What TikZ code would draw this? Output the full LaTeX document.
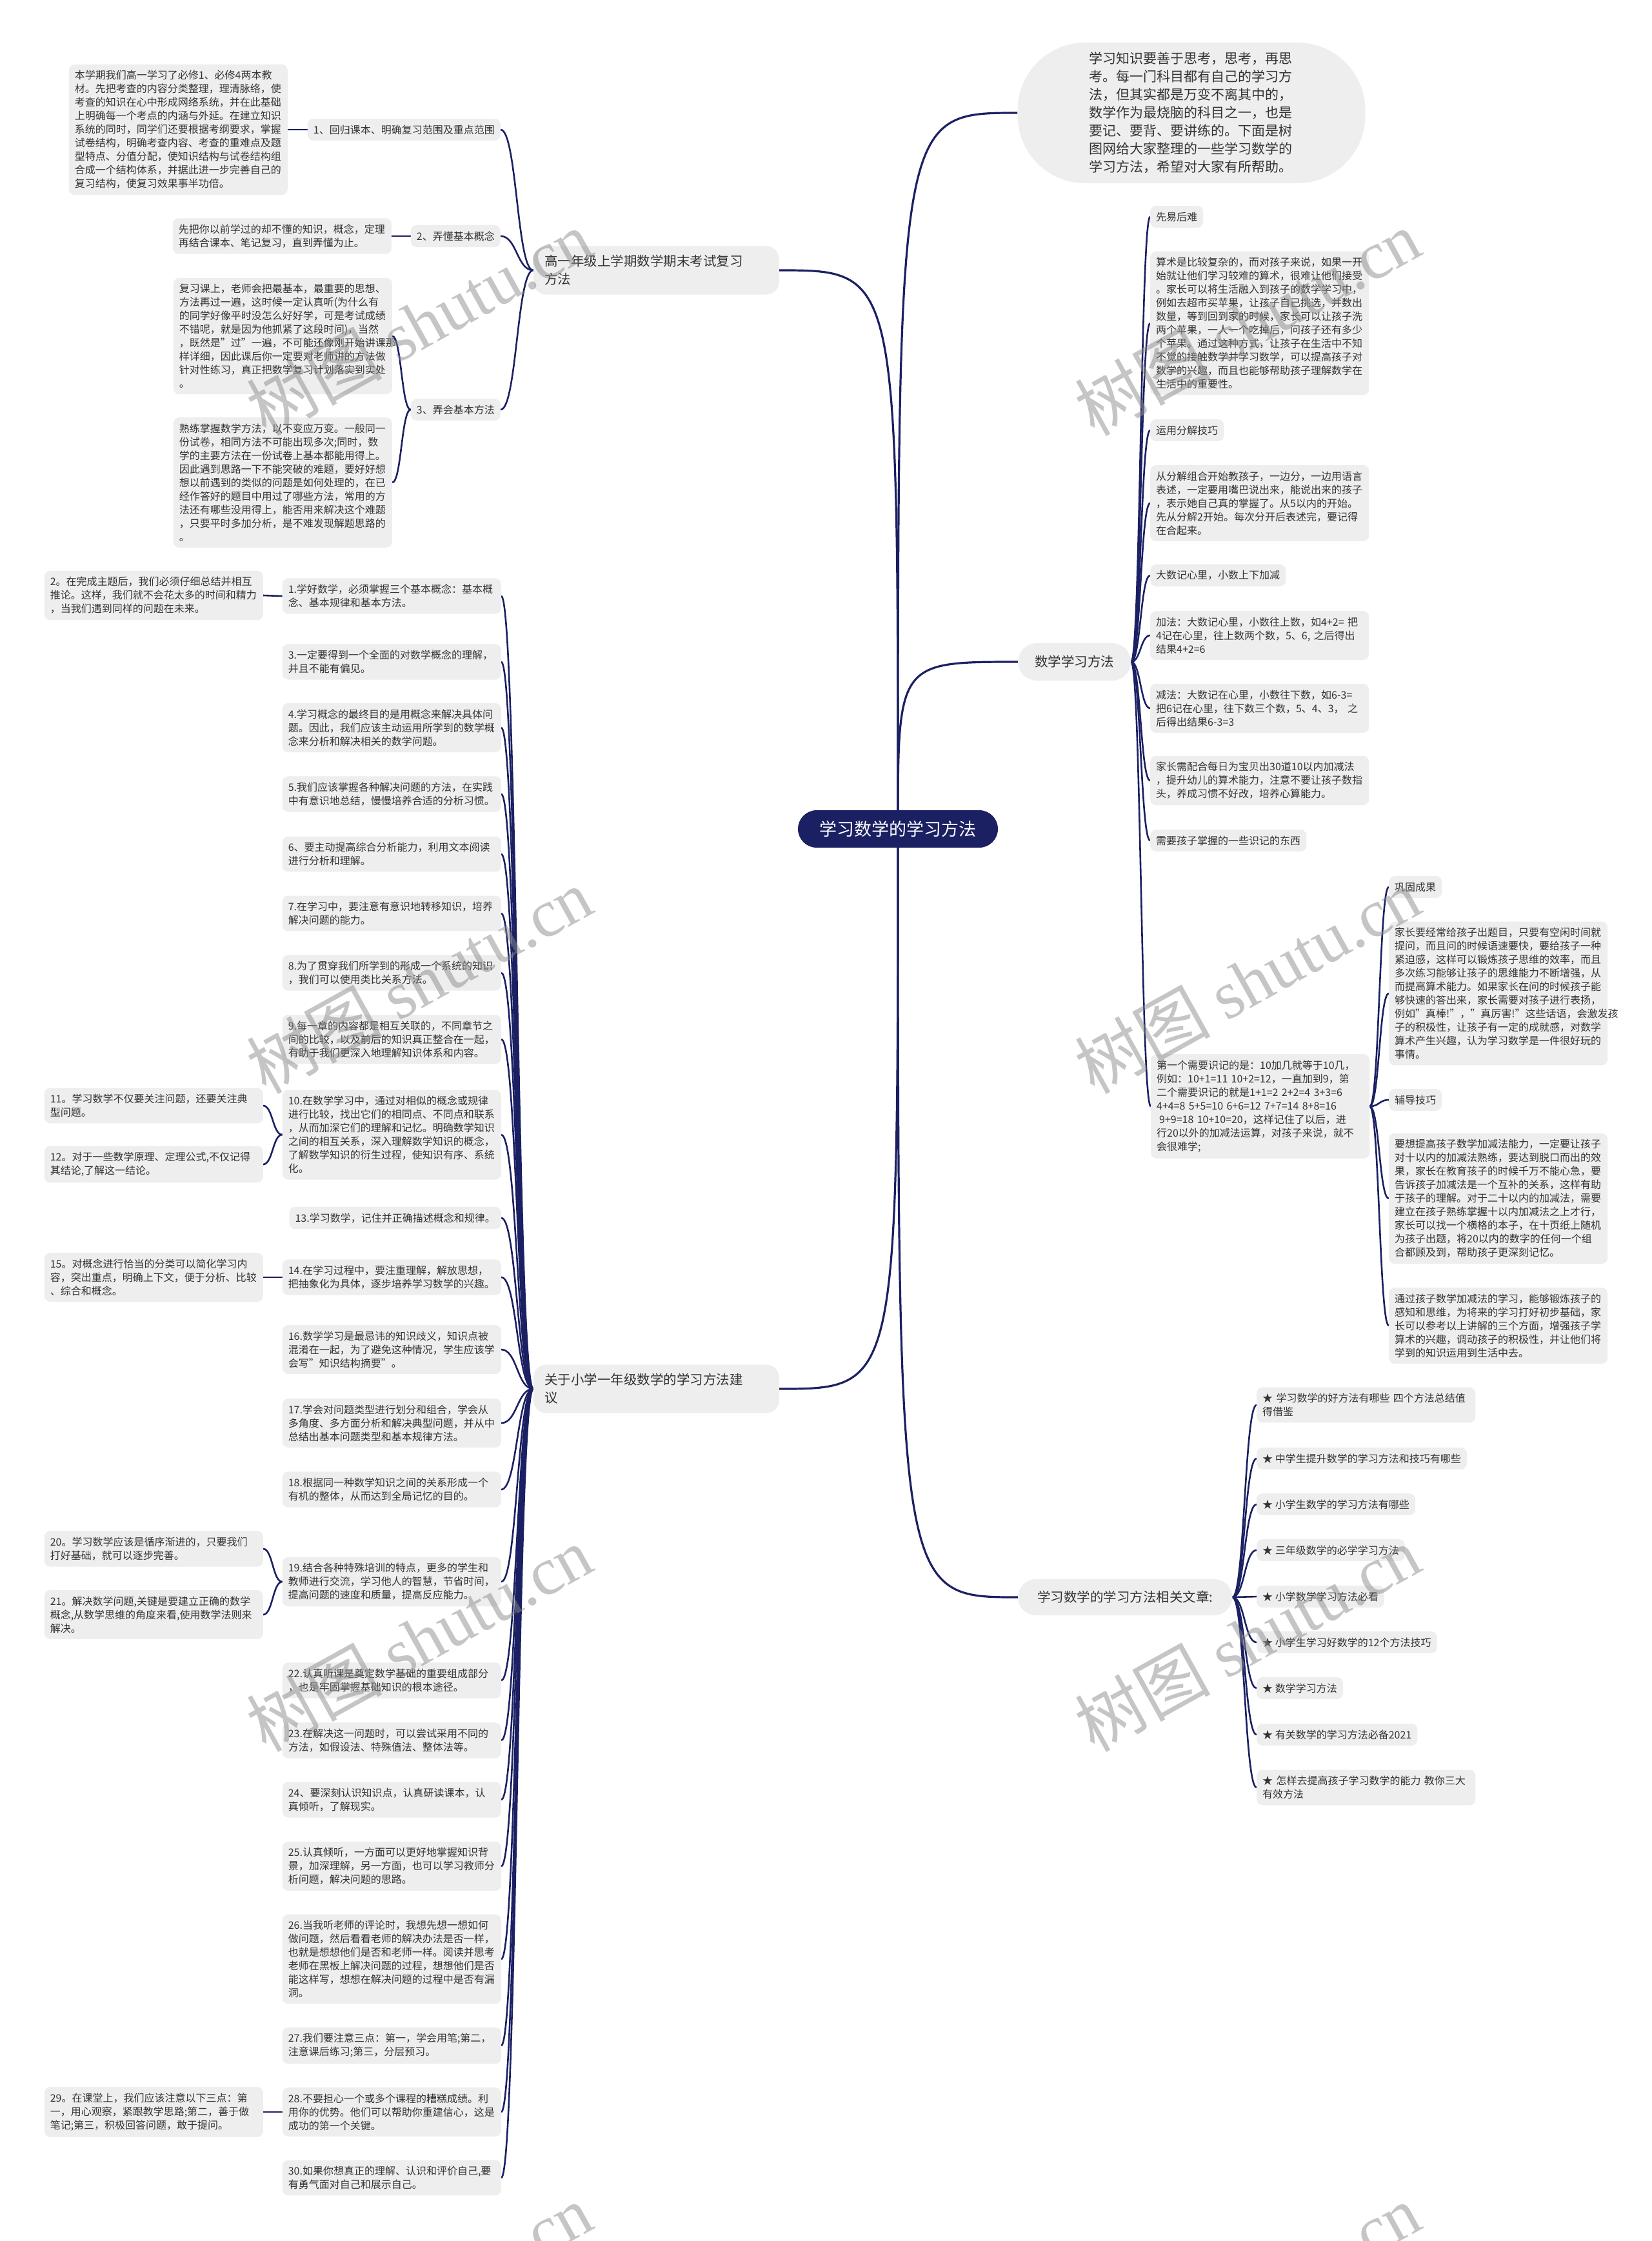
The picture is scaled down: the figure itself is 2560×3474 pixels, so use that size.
\documentclass[tikz,border=0pt]{standalone}
\usepackage{fontspec}
\setmainfont{Noto Sans CJK SC}
\newfontfamily\wmlat{Liberation Serif}
\usetikzlibrary{calc,backgrounds}
\definecolor{navy}{RGB}{27,32,99}
\definecolor{boxg}{RGB}{238,238,238}
\definecolor{txt}{RGB}{51,51,51}
\definecolor{wmc}{RGB}{140,140,140}
\newcommand\lcon[2]{\draw[conn] let \p1=(#1.west), \p2=(#2.east) in (\p1) .. controls ({(\x1+\x2)/2},\y1) and ({(\x1+\x2)/2},\y2) .. (\p2);}
\newcommand\rcon[2]{\draw[conn] let \p1=(#1.east), \p2=(#2.west) in (\p1) .. controls ({(\x1+\x2)/2},\y1) and ({(\x1+\x2)/2},\y2) .. (\p2);}
\newcommand\rootcon[1]{\draw[mconn] let \p1=(root.center), \p2=(#1) in (\p1) .. controls (\x1,\y2) .. (\p2);}
\begin{document}
\begin{tikzpicture}[x=1pt,y=-1pt,
 leaf/.style={fill=boxg, rounded corners=9pt, inner xsep=9pt, inner ysep=9.5pt, text=txt, align=left, font=\fontsize{16}{21}\selectfont},
 wide/.style={leaf, text width=321pt},
 lv/.style={fill=boxg, rounded corners=20pt, text=txt, align=left, font=\fontsize{20.5}{28}\selectfont},
 conn/.style={draw=navy, line width=2.6pt},
 mconn/.style={draw=navy, line width=3.2pt},
 wm/.style={text=wmc, text opacity=0.5, rotate=29, font=\fontsize{105}{105}\selectfont, inner sep=0pt}
]
\useasboundingbox (0,0) rectangle (2560,3474);

% root and level 1
\node[fill=navy, text=white, rounded corners=29pt, minimum width=310pt, minimum height=58pt, font=\fontsize{27}{30}\selectfont, inner sep=0pt] (root) at (1392,1285) {学习数学的学习方法};
\node[fill=boxg, text=txt, rounded corners=105pt, minimum width=539pt, minimum height=218pt, text width=318pt, align=left, font=\fontsize{21}{28}\selectfont, inner sep=0pt] (intro) at (1847,175) {学习知识要善于思考，思考，再思\\考。每一门科目都有自己的学习方\\法，但其实都是万变不离其中的，\\数学作为最烧脑的科目之一，也是\\要记、要背、要讲练的。下面是树\\图网给大家整理的一些学习数学的\\学习方法，希望对大家有所帮助。};
\node[lv, anchor=east, text width=346pt, inner xsep=17.5pt, inner ysep=14pt] (B1) at (1208,419) {高一年级上学期数学期末考试复习\\方法};
\node[lv, anchor=east, text width=346pt, inner xsep=17.5pt, inner ysep=14pt] (B2) at (1208,2153) {关于小学一年级数学的学习方法建\\议};
\node[lv, anchor=west, inner xsep=26pt, minimum height=58pt, rounded corners=29pt] (B3) at (1578,1026) {数学学习方法};
\node[lv, anchor=west, inner xsep=30pt, minimum height=56pt, rounded corners=28pt] (B4) at (1578,2476) {学习数学的学习方法相关文章:};

% branch 1
\node[leaf, anchor=east] (c11) at (776,201) {1、回归课本、明确复习范围及重点范围};
\node[wide, anchor=east] (d11) at (446,201) {本学期我们高一学习了必修1、必修4两本教\\材。先把考查的内容分类整理，理清脉络，使\\考查的知识在心中形成网络系统，并在此基础\\上明确每一个考点的内涵与外延。在建立知识\\系统的同时，同学们还要根据考纲要求，掌握\\试卷结构，明确考查内容、考查的重难点及题\\型特点、分值分配，使知识结构与试卷结构组\\合成一个结构体系，并据此进一步完善自己的\\复习结构，使复习效果事半功倍。};
\node[leaf, anchor=east] (c12) at (776,366) {2、弄懂基本概念};
\node[wide, anchor=east] (d12) at (607,366) {先把你以前学过的却不懂的知识，概念，定理\\再结合课本、笔记复习，直到弄懂为止。};
\node[leaf, anchor=east] (c13) at (776,635) {3、弄会基本方法};
\node[wide, anchor=east] (d13a) at (608,521) {复习课上，老师会把最基本，最重要的思想、\\方法再过一遍，这时候一定认真听(为什么有\\的同学好像平时没怎么好好学，可是考试成绩\\不错呢，就是因为他抓紧了这段时间)，当然\\，既然是"过"一遍，不可能还像刚开始讲课那\\样详细，因此课后你一定要对老师讲的方法做\\针对性练习，真正把数学复习计划落实到实处\\。};
\node[wide, anchor=east] (d13b) at (608,748) {熟练掌握数学方法，以不变应万变。一般同一\\份试卷，相同方法不可能出现多次;同时，数\\学的主要方法在一份试卷上基本都能用得上。\\因此遇到思路一下不能突破的难题，要好好想\\想以前遇到的类似的问题是如何处理的，在已\\经作答好的题目中用过了哪些方法，常用的方\\法还有哪些没用得上，能否用来解决这个难题\\，只要平时多加分析，是不难发现解题思路的\\。};

% branch 2
\node[wide, anchor=east] (e1) at (777,924) {1.学好数学，必须掌握三个基本概念：基本概\\念、基本规律和基本方法。};
\node[wide, anchor=east] (f1) at (408,923) {2。在完成主题后，我们必须仔细总结并相互\\推论。这样，我们就不会花太多的时间和精力\\，当我们遇到同样的问题在未来。};
\node[wide, anchor=east] (e3) at (777,1026) {3.一定要得到一个全面的对数学概念的理解，\\并且不能有偏见。};
\node[wide, anchor=east] (e4) at (777,1128) {4.学习概念的最终目的是用概念来解决具体问\\题。因此，我们应该主动运用所学到的数学概\\念来分析和解决相关的数学问题。};
\node[wide, anchor=east] (e5) at (777,1231) {5.我们应该掌握各种解决问题的方法，在实践\\中有意识地总结，慢慢培养合适的分析习惯。};
\node[wide, anchor=east] (e6) at (777,1324) {6、要主动提高综合分析能力，利用文本阅读\\进行分析和理解。};
\node[wide, anchor=east] (e7) at (777,1416) {7.在学习中，要注意有意识地转移知识，培养\\解决问题的能力。};
\node[wide, anchor=east] (e8) at (777,1508) {8.为了贯穿我们所学到的形成一个系统的知识\\，我们可以使用类比关系方法。};
\node[wide, anchor=east] (e9) at (777,1611) {9.每一章的内容都是相互关联的，不同章节之\\间的比较，以及前后的知识真正整合在一起，\\有助于我们更深入地理解知识体系和内容。};
\node[wide, anchor=east] (e10) at (777,1759) {10.在数学学习中，通过对相似的概念或规律\\进行比较，找出它们的相同点、不同点和联系\\，从而加深它们的理解和记忆。明确数学知识\\之间的相互关系，深入理解数学知识的概念，\\了解数学知识的衍生过程，使知识有序、系统\\化。};
\node[wide, anchor=east] (f11) at (408,1714) {11。学习数学不仅要关注问题，还要关注典\\型问题。};
\node[wide, anchor=east] (f12) at (408,1805) {12。对于一些数学原理、定理公式,不仅记得\\其结论,了解这一结论。};
\node[leaf, anchor=east] (e13) at (777,1888) {13.学习数学，记住并正确描述概念和规律。};
\node[wide, anchor=east] (e14) at (777,1980) {14.在学习过程中，要注重理解，解放思想，\\把抽象化为具体，逐步培养学习数学的兴趣。};
\node[wide, anchor=east] (f15) at (408,1980) {15。对概念进行恰当的分类可以简化学习内\\容，突出重点，明确上下文，便于分析、比较\\、综合和概念。};
\node[wide, anchor=east] (e16) at (777,2092) {16.数学学习是最忌讳的知识歧义，知识点被\\混淆在一起，为了避免这种情况，学生应该学\\会写"知识结构摘要"。};
\node[wide, anchor=east] (e17) at (777,2206) {17.学会对问题类型进行划分和组合，学会从\\多角度、多方面分析和解决典型问题，并从中\\总结出基本问题类型和基本规律方法。};
\node[wide, anchor=east] (e18) at (777,2309) {18.根据同一种数学知识之间的关系形成一个\\有机的整体，从而达到全局记忆的目的。};
\node[wide, anchor=east] (e19) at (777,2452) {19.结合各种特殊培训的特点，更多的学生和\\教师进行交流，学习他人的智慧，节省时间，\\提高问题的速度和质量，提高反应能力。};
\node[wide, anchor=east] (f20) at (408,2401) {20。学习数学应该是循序渐进的，只要我们\\打好基础，就可以逐步完善。};
\node[wide, anchor=east] (f21) at (408,2503) {21。解决数学问题,关键是要建立正确的数学\\概念,从数学思维的角度来看,使用数学法则来\\解决。};
\node[wide, anchor=east] (e22) at (777,2605) {22.认真听课是奠定数学基础的重要组成部分\\，也是牢固掌握基础知识的根本途径。};
\node[wide, anchor=east] (e23) at (777,2698) {23.在解决这一问题时，可以尝试采用不同的\\方法，如假设法、特殊值法、整体法等。};
\node[wide, anchor=east] (e24) at (777,2790) {24、要深刻认识知识点，认真研读课本，认\\真倾听，了解现实。};
\node[wide, anchor=east] (e25) at (777,2893) {25.认真倾听，一方面可以更好地掌握知识背\\景，加深理解，另一方面，也可以学习教师分\\析问题，解决问题的思路。};
\node[wide, anchor=east] (e26) at (777,3037) {26.当我听老师的评论时，我想先想一想如何\\做问题，然后看看老师的解决办法是否一样，\\也就是想想他们是否和老师一样。阅读并思考\\老师在黑板上解决问题的过程，想想他们是否\\能这样写，想想在解决问题的过程中是否有漏\\洞。};
\node[wide, anchor=east] (e27) at (777,3171) {27.我们要注意三点：第一，学会用笔;第二，\\注意课后练习;第三，分层预习。};
\node[wide, anchor=east] (e28) at (777,3274) {28.不要担心一个或多个课程的糟糕成绩。利\\用你的优势。他们可以帮助你重建信心，这是\\成功的第一个关键。};
\node[wide, anchor=east] (f29) at (408,3274) {29。在课堂上，我们应该注意以下三点：第\\一，用心观察，紧跟教学思路;第二，善于做\\笔记;第三，积极回答问题，敢于提问。};
\node[wide, anchor=east] (e30) at (777,3376) {30.如果你想真正的理解、认识和评价自己,要\\有勇气面对自己和展示自己。};

% branch 3
\node[leaf, anchor=west] (g1) at (1783,336) {先易后难};
\node[wide, anchor=west] (g2) at (1783,501) {算术是比较复杂的，而对孩子来说，如果一开\\始就让他们学习较难的算术，很难让他们接受\\。家长可以将生活融入到孩子的数学学习中，\\例如去超市买苹果，让孩子自己挑选，并数出\\数量，等到回到家的时候，家长可以让孩子洗\\两个苹果，一人一个吃掉后，问孩子还有多少\\个苹果。通过这种方式，让孩子在生活中不知\\不觉的接触数学并学习数学，可以提高孩子对\\数学的兴趣，而且也能够帮助孩子理解数学在\\生活中的重要性。};
\node[leaf, anchor=west] (g3) at (1783,667) {运用分解技巧};
\node[wide, anchor=west] (g4) at (1783,780) {从分解组合开始教孩子，一边分，一边用语言\\表述，一定要用嘴巴说出来，能说出来的孩子\\，表示她自己真的掌握了。从5以内的开始。\\先从分解2开始。每次分开后表述完，要记得\\在合起来。};
\node[leaf, anchor=west] (g5) at (1783,892) {大数记心里，小数上下加减};
\node[wide, anchor=west] (g6) at (1783,985) {加法：大数记心里，小数往上数，如4+2=~把\\4记在心里，往上数两个数，5、6,~之后得出\\结果4+2=6};
\node[wide, anchor=west] (g7) at (1783,1098) {减法：大数记在心里，小数往下数，如6-3=\\把6记在心里，往下数三个数，5、4、3，~之\\后得出结果6-3=3};
\node[wide, anchor=west] (g8) at (1783,1210) {家长需配合每日为宝贝出30道10以内加减法\\，提升幼儿的算术能力，注意不要让孩子数指\\头，养成习惯不好改，培养心算能力。};
\node[leaf, anchor=west] (g9) at (1783,1303) {需要孩子掌握的一些识记的东西};
\node[wide, anchor=west] (g10) at (1784,1715) {第一个需要识记的是：10加几就等于10几，\\例如：10+1=11~10+2=12，一直加到9，第\\二个需要识记的就是1+1=2~2+2=4~3+3=6\\4+4=8~5+5=10~6+6=12~7+7=14~8+8=16\\\hspace*{4pt}9+9=18~10+10=20，这样记住了以后，进\\行20以外的加减法运算，对孩子来说，就不\\会很难学;};
\node[leaf, anchor=west] (h1) at (2153,1375) {巩固成果};
\node[wide, anchor=west] (h2) at (2153,1540) {家长要经常给孩子出题目，只要有空闲时间就\\提问，而且问的时候语速要快，要给孩子一种\\紧迫感，这样可以锻炼孩子思维的效率，而且\\多次练习能够让孩子的思维能力不断增强，从\\而提高算术能力。如果家长在问的时候孩子能\\够快速的答出来，家长需要对孩子进行表扬，\\例如"真棒!"，"真厉害!"这些话语，会激发孩\\子的积极性，让孩子有一定的成就感，对数学\\算术产生兴趣，认为学习数学是一件很好玩的\\事情。};
\node[leaf, anchor=west] (h3) at (2153,1705) {辅导技巧};
\node[wide, anchor=west] (h4) at (2153,1858) {要想提高孩子数学加减法能力，一定要让孩子\\对十以内的加减法熟练，要达到脱口而出的效\\果，家长在教育孩子的时候千万不能心急，要\\告诉孩子加减法是一个互补的关系，这样有助\\于孩子的理解。对于二十以内的加减法，需要\\建立在孩子熟练掌握十以内加减法之上才行，\\家长可以找一个横格的本子，在十页纸上随机\\为孩子出题，将20以内的数字的任何一个组\\合都顾及到，帮助孩子更深刻记忆。};
\node[wide, anchor=west] (h5) at (2153,2055) {通过孩子数学加减法的学习，能够锻炼孩子的\\感知和思维，为将来的学习打好初步基础，家\\长可以参考以上讲解的三个方面，增强孩子学\\算术的兴趣，调动孩子的积极性，并让他们将\\学到的知识运用到生活中去。};

% branch 4
\node[wide, anchor=west] (k1) at (1948,2178) {★~学习数学的好方法有哪些~四个方法总结值\\得借鉴};
\node[leaf, anchor=west] (k2) at (1948,2261) {★~中学生提升数学的学习方法和技巧有哪些};
\node[leaf, anchor=west] (k3) at (1948,2332) {★~小学生数学的学习方法有哪些};
\node[leaf, anchor=west] (k4) at (1948,2403) {★~三年级数学的必学学习方法};
\node[leaf, anchor=west] (k5) at (1948,2475) {★~小学数学学习方法必看};
\node[leaf, anchor=west] (k6) at (1948,2546) {★~小学生学习好数学的12个方法技巧};
\node[leaf, anchor=west] (k7) at (1948,2617) {★~数学学习方法};
\node[leaf, anchor=west] (k8) at (1948,2689) {★~有关数学的学习方法必备2021};
\node[wide, anchor=west] (k9) at (1948,2771) {★~怎样去提高孩子学习数学的能力~教你三大\\有效方法};

% connectors
\begin{scope}[on background layer]
\fill[white] (0,0) rectangle (2560,3474);
\rootcon{B1.east}
\rootcon{B2.east}
\rootcon{intro.west}
\rootcon{B3.west}
\rootcon{B4.west}
\draw[conn] (c11.west) -- (d11.east);
\draw[conn] (c12.west) -- (d12.east);
\lcon{c13}{d13a}
\lcon{c13}{d13b}
\lcon{B1}{c11}
\lcon{B1}{c12}
\lcon{B1}{c13}
\foreach \nm in {e1,e3,e4,e5,e6,e7,e8,e9,e10,e13,e14,e16,e17,e18,e19,e22,e23,e24,e25,e26,e27,e28,e30}{\lcon{B2}{\nm}}
\lcon{e1}{f1}
\lcon{e10}{f11}
\lcon{e10}{f12}
\lcon{e14}{f15}
\lcon{e19}{f20}
\lcon{e19}{f21}
\lcon{e28}{f29}
\foreach \nm in {g1,g2,g3,g4,g5,g6,g7,g8,g9,g10}{\rcon{B3}{\nm}}
\foreach \nm in {h1,h2,h3,h4,h5}{\rcon{g10}{\nm}}
\foreach \nm in {k1,k2,k3,k4,k5,k6,k7,k8,k9}{\rcon{B4}{\nm}}
\end{scope}

% watermarks
\node[wm] (w1) at (650,500) {树图~{\wmlat shutu.cn}};
\node[wm] (w2) at (1934,500) {树图~{\wmlat shutu.cn}};
\node[wm] (w3) at (650,1520) {树图~{\wmlat shutu.cn}};
\node[wm] (w4) at (1934,1520) {树图~{\wmlat shutu.cn}};
\node[wm] (w5) at (650,2540) {树图~{\wmlat shutu.cn}};
\node[wm] (w6) at (1934,2540) {树图~{\wmlat shutu.cn}};
\node[wm] (w7) at (650,3560) {树图~{\wmlat shutu.cn}};
\node[wm] (w8) at (1934,3560) {树图~{\wmlat shutu.cn}};
\end{tikzpicture}
\end{document}
